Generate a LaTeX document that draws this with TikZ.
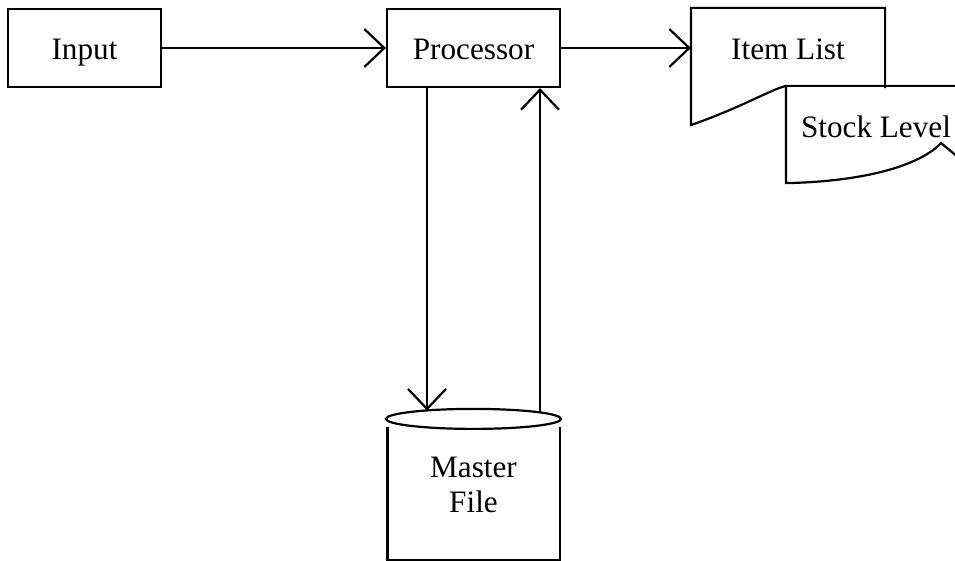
\documentclass[tikz,border=0pt]{standalone}
\usepackage{fontspec}
\setmainfont{Liberation Serif}
\usetikzlibrary{arrows.meta}

\begin{document}
\begin{tikzpicture}[x=0.5pt, y=-0.5pt, line width=1.1pt, >={Straight Barb[length=10pt,width=19pt]},
	every node/.style = {font=\fontsize{15.6pt}{17.5pt}\selectfont},
	blk/.style = {draw, minimum height=39pt, inner sep=0pt, text height=12pt, text depth=0pt},
	doc/.style = {minimum height=39pt, inner sep=0pt, text height=12pt, text depth=0pt},
	store/.style = {minimum height=74.5pt, inner sep=0pt, align=center}]
	\useasboundingbox (0,0) rectangle (955,561);
	\clip (0,0) rectangle (955,561);

	%Top row of boxes
	\node[blk, minimum width=76.5pt] (input) at (84.5,48) {Input};
	\node[blk, minimum width=86.5pt] (proc) [node distance={194.5pt}, right of=input] {Processor};
	\node[doc, minimum width=96pt] (items) [node distance={157.25pt}, right of=proc] {Item List};
	\node[doc, minimum width=89pt] (stock) at (876,126) {Stock Level};
	%Store below the processor
	\node[store, minimum width=87pt] (master) [node distance={218.25pt}, below of=proc] {Master\\File};

	%Document outlines
	\draw (items.south east) -- (items.north east) -- (items.north west) -- ([shift={(0,37)}]items.south west)
		.. controls (740,108) and (770,90) .. (stock.north west); %Item List
	\draw (stock.north east) -- (stock.north west) -- ([shift={(0,17)}]stock.south west)
		.. controls (850,182) and (915,170) .. ([shift={(-25,-23)}]stock.south east)
		-- ([shift={(5,2)}]stock.south east) -- (stock.north east); %Stock Level

	%Cylinder for the store
	\draw ([shift={(0,10)}]master.north) ellipse [x radius=43.75pt, y radius=5pt];
	\draw ([shift={(2,18)}]master.north west) -- ([shift={(2,0)}]master.south west)
		-- ([shift={(-2,0)}]master.south east) -- ([shift={(-2,18)}]master.north east);

	%Flows
	\path [->] (input) edge (proc); 	%Input -> Processor
	\path [->] (proc) edge (items); 	%Processor -> Item List
	\draw [->, shorten >=-0.8pt] ([shift={(-46.5,0)}]proc.south) -- ([shift={(-46.5,0)}]proc.south |- master.north); %read
	\draw [->, shorten <=-1.5pt] ([shift={(66.5,0)}]proc.south |- master.north) -- ([shift={(66.5,0)}]proc.south); %write back
\end{tikzpicture}
\end{document}
